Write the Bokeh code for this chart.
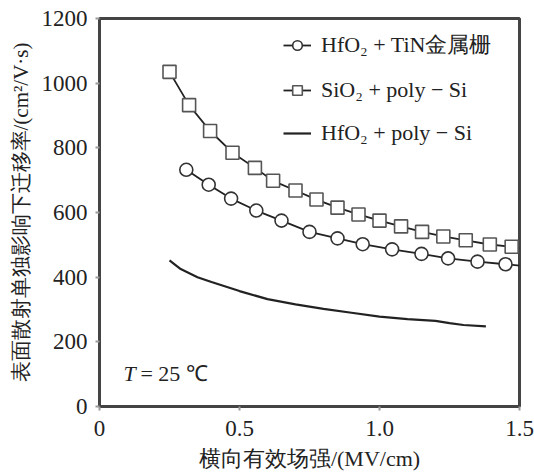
from bokeh.plotting import figure
from bokeh.models import Range1d, FixedTicker, Legend, LegendItem, Label
from bokeh.embed import file_html
from bokeh.resources import INLINE

# HfO2 + TiN metal gate (circles)
x_tin = [0.31, 0.39, 0.47, 0.56, 0.65, 0.75, 0.85, 0.94, 1.045, 1.15, 1.245, 1.35, 1.45]
y_tin = [732, 686, 643, 606, 575, 540, 520, 502, 486, 472, 458, 448, 440]
# line continuation of the circle series to the frame edge
x_tin_line = x_tin + [1.5]
y_tin_line = y_tin + [436]

# SiO2 + poly-Si (squares)
x_sio = [0.25, 0.32, 0.395, 0.475, 0.555, 0.62, 0.70, 0.775, 0.85, 0.925, 1.0, 1.077, 1.152, 1.228, 1.308, 1.394, 1.472]
y_sio = [1035, 932, 852, 785, 738, 698, 668, 640, 615, 594, 575, 557, 540, 526, 514, 501, 494]
x_sio_line = x_sio + [1.5]
y_sio_line = y_sio + [490]

# HfO2 + poly-Si (solid line)
x_hfp = [0.25, 0.29, 0.35, 0.40, 0.50, 0.60, 0.70, 0.80, 0.90, 1.00, 1.10, 1.20, 1.25, 1.30, 1.38]
y_hfp = [452, 425, 400, 385, 357, 332, 316, 302, 290, 278, 270, 265, 258, 252, 248]

x_ticks = [0, 0.5, 1.0, 1.5]
x_tick_labels = {0: "0", 0.5: "0.5", 1.0: "1.0", 1.5: "1.5"}
y_ticks = [0, 200, 400, 600, 800, 1000, 1200]

labels = ["HfO₂ + TiN金属栅",
          "SiO₂ + poly \u2212 Si",
          "HfO₂ + poly \u2212 Si"]

SERIF = "Liberation Serif"

p = figure(width=534, height=473, output_backend="svg", toolbar_location=None,
           x_range=Range1d(0, 1.5), y_range=Range1d(0, 1200),
           min_border_left=99, min_border_right=15, min_border_top=18, min_border_bottom=66)

p.background_fill_color = "white"
p.border_fill_color = "white"
p.grid.visible = False
p.outline_line_color = "#444444"
p.outline_line_width = 3

p.xaxis.ticker = FixedTicker(ticks=x_ticks)
p.xaxis.major_label_overrides = x_tick_labels
p.yaxis.ticker = FixedTicker(ticks=y_ticks)
for ax in (p.xaxis[0], p.yaxis[0]):
    ax.axis_line_color = "#444444"
    ax.axis_line_width = 3
    ax.major_tick_line_color = "#999999"
    ax.major_tick_line_width = 2
    ax.major_tick_out = 4
    ax.major_tick_in = 0
    ax.minor_tick_line_color = None
    ax.major_label_text_font = SERIF
    ax.major_label_text_font_size = "23px"
    ax.major_label_text_color = "#222222"
    ax.axis_label_text_font = SERIF
    ax.axis_label_text_font_style = "normal"
    ax.axis_label_text_color = "#222222"

p.xaxis.axis_label_text_font_size = "22px"
p.yaxis.axis_label_text_font_size = "21px"
p.xaxis.axis_label = "横向有效场强/(MV/cm)"
p.yaxis.axis_label = "表面散射单独影响下迁移率/(cm²/V·s)"
p.xaxis.major_label_standoff = 10
p.yaxis.major_label_standoff = 8
p.xaxis.axis_label_standoff = 7
p.yaxis.axis_label_standoff = 6

l1 = p.line(x_tin_line, y_tin_line, line_color="#222222", line_width=1.8)
m1 = p.scatter(x_tin, y_tin, marker="circle", size=13, fill_color="white",
               line_color="#333333", line_width=1.6)
l2 = p.line(x_sio_line, y_sio_line, line_color="#222222", line_width=1.8)
m2 = p.scatter(x_sio, y_sio, marker="square", size=13, fill_color="white",
               line_color="#555555", line_width=1.6)
l3 = p.line(x_hfp, y_hfp, line_color="#222222", line_width=2.2)

legend = Legend(items=[LegendItem(label=labels[0], renderers=[l1, m1]),
                       LegendItem(label=labels[1], renderers=[l2, m2]),
                       LegendItem(label=labels[2], renderers=[l3])],
                location=(184, 260))
legend.background_fill_alpha = 0
legend.border_line_alpha = 0
legend.label_text_font = SERIF
legend.label_text_font_size = "22px"
legend.label_text_color = "#222222"
legend.glyph_width = 28
legend.glyph_height = 24
legend.label_height = 24
legend.spacing = 17
legend.label_standoff = 10
legend.margin = 0
legend.padding = 0
p.add_layout(legend)

p.add_layout(Label(x=0.086, y=64, text="T", text_font=SERIF, text_font_style="italic",
                   text_font_size="22px", text_color="#222222"))
p.add_layout(Label(x=0.146, y=64, text="= 25 ℃", text_font=SERIF,
                   text_font_size="22px", text_color="#222222"))

open("out.html", "w").write(file_html(p, INLINE))
